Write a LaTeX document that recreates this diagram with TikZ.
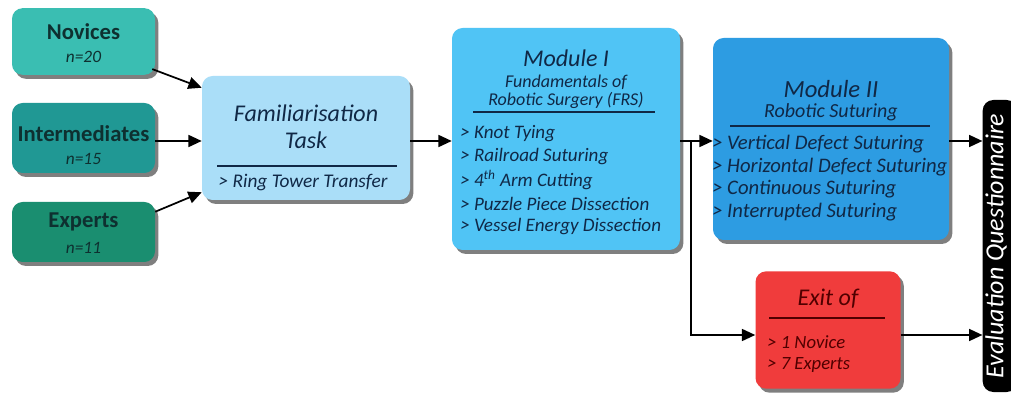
\documentclass[tikz,border=0pt]{standalone}
\usepackage{fontspec}
\setmainfont{Carlito}
\usetikzlibrary{arrows.meta,shadows,calc}
\definecolor{cNov}{RGB}{58,190,178}
\definecolor{cInt}{RGB}{32,152,148}
\definecolor{cExp}{RGB}{26,142,112}
\definecolor{cFam}{RGB}{170,222,248}
\definecolor{cMI}{RGB}{80,196,245}
\definecolor{cMII}{RGB}{45,156,226}
\definecolor{cExit}{RGB}{240,60,60}
\definecolor{tNavy}{RGB}{16,40,70}
\definecolor{tTeal}{RGB}{14,48,48}
\definecolor{tRed}{RGB}{80,0,0}
\tikzset{
  box/.style={rounded corners=8pt, inner sep=0pt, draw=none,
    drop shadow={shadow xshift=2.5pt, shadow yshift=-3pt, opacity=0.5, fill=black}},
  arr/.style={line width=1.3pt, -{Triangle[length=10pt,width=9pt]}},
  sep/.style={line width=0.9pt},
  ttl/.style={font=\fontsize{18}{20}\selectfont\itshape, inner sep=0pt},
  sub/.style={font=\fontsize{13.5}{15}\selectfont\itshape, inner sep=0pt},
  itm/.style={font=\fontsize{14.3}{16}\selectfont\itshape, inner sep=0pt, anchor=west},
  itmb/.style={itm, font=\fontsize{15.5}{17}\selectfont\itshape},
  grp/.style={font=\fontsize{17}{19}\selectfont\bfseries, inner sep=0pt},
  grn/.style={font=\fontsize{13}{15}\selectfont\itshape, inner sep=0pt},
}
\begin{document}
\begin{tikzpicture}[x=0.75pt,y=-0.75pt]
\useasboundingbox[fill=white] (0,0) rectangle (1011,399);

% group boxes
\node[box, fill=cNov, minimum width=107.25pt, minimum height=50pt] (nov) at (83.5,41.5) {};
\node[box, fill=cInt, minimum width=107.25pt, minimum height=52.5pt] (int) at (83.5,138) {};
\node[box, fill=cExp, minimum width=107.25pt, minimum height=45pt] (exp) at (83.5,232) {};
\node[grp, text=tTeal] (novT) at (83.5,32) {Novices};
\node[grn, text=tTeal] (novN) at (83.5,57) {n=20};
\node[grp, text=tTeal] (intT) at (83.5,134) {Intermediates};
\node[grn, text=tTeal] (intN) at (83.5,159) {n=15};
\node[grp, text=tTeal] (expT) at (83.5,222) {Experts};
\node[grn, text=tTeal] (expN) at (83.5,248) {n=11};

% familiarisation
\node[box, fill=cFam, minimum width=156pt, minimum height=93pt] (fam) at (306,138) {};
\node[ttl, text=tNavy] (famT1) at (306,113) {Familiarisation};
\node[ttl, text=tNavy] (famT2) at (306,140) {Task};
\draw[sep, tNavy] (217,166) -- (397,166);
\node[sub, text=tNavy, font=\fontsize{14.5}{16}\selectfont\itshape] (famI) at (303,183) {> Ring Tower Transfer};

% Module I
\node[box, fill=cMI, minimum width=171pt, minimum height=166.5pt] (m1) at (566,139) {};
\node[ttl, text=tNavy] (m1T) at (566,58) {Module I};
\node[sub, text=tNavy] (m1S1) at (566,82) {Fundamentals of};
\node[sub, text=tNavy] (m1S2) at (566,100) {Robotic Surgery (FRS)};
\draw[sep, tNavy] (473,112) -- (655,112);
\node[itm, text=tNavy] (m1a) at (460,134) {> Knot Tying};
\node[itm, text=tNavy] (m1b) at (460,157) {> Railroad Suturing};
\node[itm, text=tNavy] (m1c) at (460,180) {> 4\textsuperscript{th} Arm Cutting};
\node[itm, text=tNavy] (m1d) at (460,204) {> Puzzle Piece Dissection};
\node[itm, text=tNavy] (m1e) at (460,227) {> Vessel Energy Dissection};

% Module II
\node[box, fill=cMII, minimum width=177pt, minimum height=151.5pt] (m2) at (831,139) {};
\node[ttl, text=tNavy, font=\fontsize{18.5}{20}\selectfont\itshape] (m2T) at (831,89) {Module II};
\node[sub, text=tNavy, font=\fontsize{15}{17}\selectfont\itshape] (m2S) at (831,112) {Robotic Suturing};
\draw[sep, tNavy] (730,126) -- (930,126);
\node[itmb, text=tNavy] (m2a) at (712,144) {> Vertical Defect Suturing};
\node[itmb, text=tNavy] (m2b) at (712,167) {> Horizontal Defect Suturing};
\node[itmb, text=tNavy] (m2c) at (712,189) {> Continuous Suturing};
\node[itmb, text=tNavy] (m2d) at (712,212) {> Interrupted Suturing};

% Exit
\node[box, fill=cExit, minimum width=108.75pt, minimum height=88pt] (exit) at (828,330) {};
\node[ttl, text=tRed] (exT) at (828,299) {Exit of};
\draw[sep, tRed] (769,318) -- (885,318);
\node[itm, text=tRed, font=\fontsize{14}{16}\selectfont\itshape] (exa) at (767,342) {> 1 Novice};
\node[itm, text=tRed, font=\fontsize{14}{16}\selectfont\itshape] (exb) at (767,365) {> 7 Experts};

% Evaluation
\node[rounded corners=8pt, fill=black, minimum width=26pt, minimum height=219pt, inner sep=0pt] (ev) at (1000,246) {};
\node[rotate=90, text=white, font=\fontsize{19.5}{21}\selectfont\itshape, inner sep=0pt] (evT) at (996,246) {Evaluation Questionnaire};

% connectors
\draw[arr] ($(nov.south east)+(-3,-6)$) -- ($(fam.north west)+(0,12)$);
\draw[arr] (int.east |- 0,141) -- (fam.west |- 0,141);
\draw[arr] ($(exp.north east)+(0,10)$) -- ($(fam.south west)+(0,-8)$);
\draw[arr] (fam.east |- 0,141) -- (m1.west |- 0,141);
\draw[arr] (m1.east |- 0,141) -- (m2.west |- 0,141);
\coordinate (br) at (691,141);
\draw[arr] (br) |- (exit.west |- 0,335);
\draw[arr] (m2.east |- 0,141) -- (ev.west |- 0,141);
\draw[arr] (exit.east |- 0,335) -- (ev.west |- 0,335);
\end{tikzpicture}
\end{document}
